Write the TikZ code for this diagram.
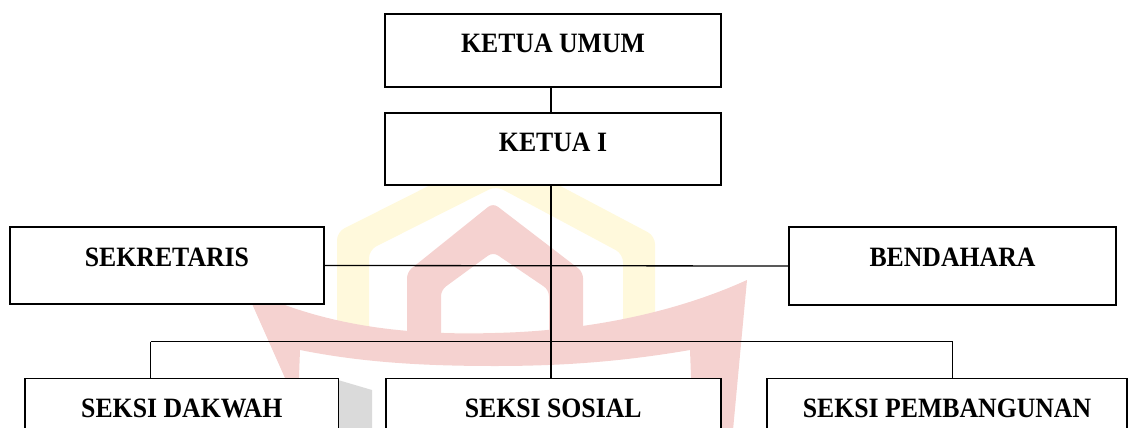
\documentclass[tikz,border=0pt]{standalone}
\usepackage{fontspec}
\newfontfamily\boxfont{Liberation Serif}[FakeStretch=0.92]
\definecolor{wmyellow}{RGB}{255,249,220}
\definecolor{wmred}{RGB}{245,210,208}
\definecolor{wmgray}{RGB}{218,218,218}
\tikzset{
  orgbox/.style={draw=black, line width=1.7pt, fill=white, rectangle, inner sep=0pt},
  boxtext/.style={font=\boxfont\bfseries\fontsize{28}{30}\selectfont, anchor=base, inner sep=0pt},
  link/.style={draw=black, line width=1.3pt}
}
\begin{document}
\begin{tikzpicture}[x=1pt,y=-1pt]
\useasboundingbox (0,0) rectangle (1129,428);
% watermark
\fill[wmyellow, even odd rule, rounded corners=8pt]
  (337,332) -- (337,232) -- (496,152) -- (655,236) -- (655,332) -- cycle
  (369,332) -- (369,250) -- (496,186) -- (623,254) -- (623,332) -- cycle;
\fill[wmred, even odd rule, rounded corners=6pt]
  (407,345) -- (407,272) -- (493,203) -- (583,272) -- (583,345) -- cycle
  (441,345) -- (441,290) -- (493,252) -- (549,290) -- (549,345) -- cycle;
\fill[wmred]
  (245,288) .. controls (330,330) and (420,335) .. (495,333)
  .. controls (580,331) and (670,315) .. (747,280)
  -- (733,430) -- (693,430) -- (690,350)
  .. controls (620,362) and (560,366) .. (495,366)
  .. controls (420,366) and (360,362) .. (300,350)
  -- (297,430) -- (290,430) -- (285,378) -- cycle;
\fill[wmgray] (338,380) -- (372,390) -- (372,430) -- (338,430) -- cycle;
% boxes
\node[orgbox, minimum width=336pt, minimum height=73pt] (ketuaumum) at (553,50.5) {};
\node[orgbox, minimum width=336pt, minimum height=72pt] (ketuasatu) at (553,149) {};
\node[orgbox, minimum width=314pt, minimum height=77pt] (sekretaris) at (167,265.5) {};
\node[orgbox, minimum width=327pt, minimum height=78pt] (bendahara) at (952.5,266) {};
\node[orgbox, minimum width=313.6pt, minimum height=80pt] (dakwah) at (181.8,418.6) {};
\node[orgbox, minimum width=335pt, minimum height=80pt] (sosial) at (553.2,418.6) {};
\node[orgbox, minimum width=360pt, minimum height=80pt] (pemb) at (947,418.6) {};
% texts
\node[boxtext] (t1) at ([yshift=-39pt]ketuaumum.north) {KETUA UMUM};
\node[boxtext] (t2) at ([yshift=-39pt]ketuasatu.north) {KETUA I};
\node[boxtext] (t3) at ([yshift=-40pt]sekretaris.north) {SEKRETARIS};
\node[boxtext] (t4) at ([yshift=-40pt]bendahara.north) {BENDAHARA};
\node[boxtext] (t5) at ([yshift=-39.5pt]dakwah.north) {SEKSI DAKWAH};
\node[boxtext] (t6) at ([yshift=-39.5pt]sosial.north) {SEKSI SOSIAL};
\node[boxtext] (t7) at ([yshift=-39.5pt]pemb.north) {SEKSI PEMBANGUNAN};
% connectors
\coordinate (spine) at (551,0);
\coordinate (busL) at (150.7,341.5);
\coordinate (busR) at (952.6,341.5);
\draw[link] (spine |- ketuaumum.south) -- (spine |- ketuasatu.north);
\draw[link] (spine |- ketuasatu.south) -- (spine |- sosial.north);
\draw[link] (sekretaris.east) -- (bendahara.west);
\draw[link] (busL) -- (busR);
\draw[link] (busL) -- (busL |- dakwah.north);
\draw[link] (busR) -- (busR |- pemb.north);
\end{tikzpicture}
\end{document}
